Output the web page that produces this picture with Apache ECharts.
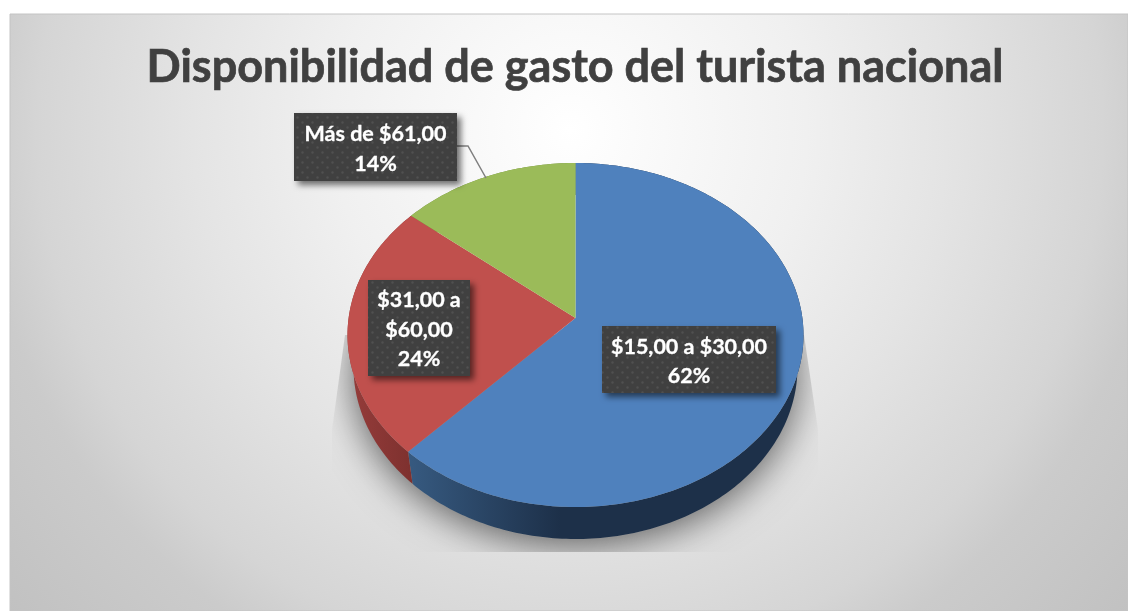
<!DOCTYPE html>
<html>
<head>
<meta charset="utf-8">
<style>
  html, body { margin: 0; padding: 0; background: #fff; }
  #chart { width: 1128px; height: 611px; }
</style>
<script src="https://cdn.jsdelivr.net/npm/echarts@6/dist/echarts.min.js"></script>
</head>
<body>
<div id="chart"></div>
<script>
// datos
var titleText = 'Disponibilidad de gasto del turista nacional';
var categories = ['$15,00 a $30,00', '$31,00 a\n$60,00', 'Más de $61,00'];
var shares = [62, 24, 14];
var topColors = ['#4f81bd', '#c0504d', '#9bbb59'];

// geometria del pastel en perspectiva
var topFace = { cx: 575.5, cy: 335, rx: 228, ry: 172 };
var bottomFace = { cx: 575.5, cy: 367, rx: 222, ry: 172 };
var persp = 0.099; // desplaza el vertice hacia atras
var boxes = [
  { x: 602, y: 326, w: 174, h: 67 },
  { x: 368, y: 280, w: 102, h: 96 },
  { x: 294, y: 113, w: 163, h: 68 }
];

var total = shares.reduce(function (a, b) { return a + b; }, 0);
function startOf(i) {
  var s = 0;
  for (var k = 0; k < i; k++) s += shares[k];
  return s / total;
}

// circulo unitario -> elipse con perspectiva
function project(face, frac, radius) {
  var a = frac * Math.PI * 2;
  var x = Math.sin(a) * radius;
  var y = Math.cos(a) * radius;
  var d = 1 + persp * y;
  return [
    face.cx + face.rx * x * Math.sqrt(1 - persp * persp) / d,
    face.cy - face.ry * (y + persp) / d
  ];
}

function arc(face, from, to) {
  var pts = [];
  var n = Math.max(2, Math.round((to - from) * 360));
  for (var i = 0; i <= n; i++) pts.push(project(face, from + (to - from) * i / n, 1));
  return pts;
}

// textura de puntos de las etiquetas
function dotTile() {
  var c = document.createElement('canvas');
  c.width = 10; c.height = 10;
  var g = c.getContext('2d');
  g.fillStyle = '#404040';
  g.fillRect(0, 0, 10, 10);
  g.fillStyle = '#505050';
  g.beginPath(); g.arc(2.5, 2.5, 1.2, 0, 7); g.fill();
  g.beginPath(); g.arc(7.5, 7.5, 1.2, 0, 7); g.fill();
  return c;
}
var tile = dotTile();

var wallColors = [
  { type: 'linear', x: 412, y: 0, x2: 560, y2: 0, global: true,
    colorStops: [{ offset: 0, color: '#36597f' }, { offset: 1, color: '#1d3049' }] },
  { type: 'linear', x: 350, y: 0, x2: 416, y2: 0, global: true,
    colorStops: [{ offset: 0, color: '#953c3a' }, { offset: 1, color: '#7c302e' }] },
  '#6f8a3c'
];

var seriesData = categories.map(function (c, i) { return { name: c, value: shares[i] }; });

var chart = echarts.init(document.getElementById('chart'), null, { renderer: 'canvas' });

chart.setOption({
  animation: false,
  backgroundColor: '#ffffff',
  title: {
    text: titleText,
    left: 570,
    top: 40,
    textAlign: 'center',
    textStyle: {
      fontFamily: 'Lato', fontWeight: 'bold', fontSize: 45, color: '#404040',
      textBorderColor: '#404040', textBorderWidth: 0.7
    }
  },
  graphic: [{
    type: 'rect',
    z: -10,
    silent: true,
    shape: { x: 10, y: 14, width: 1118, height: 597 },
    style: {
      stroke: '#c4c4c4',
      lineWidth: 1,
      fill: {
        type: 'radial', x: 570, y: 130, r: 740, global: true,
        colorStops: [
          { offset: 0, color: '#ffffff' },
          { offset: 0.32, color: '#f0f0f0' },
          { offset: 0.51, color: '#e4e4e4' },
          { offset: 0.72, color: '#d5d5d5' },
          { offset: 0.8, color: '#cbcbcb' },
          { offset: 1, color: '#c1c1c1' }
        ]
      }
    }
  }],
  series: [
    { // sombra, recortada como en la imagen
      type: 'custom', coordinateSystem: 'none', z: 1, silent: true,
      data: [0],
      renderItem: function () {
        return {
          type: 'polygon',
          shape: { points: arc(bottomFace, 0, 1) },
          clipPath: {
            type: 'polygon',
            shape: { points: [[345, 335], [332, 430], [332, 552], [818, 552], [818, 430], [804, 335]] }
          },
          style: {
            fill: '#9a9a9a',
            shadowColor: 'rgba(0,0,0,0.6)',
            shadowBlur: 38,
            shadowOffsetY: 6
          }
        };
      }
    },
    { // paredes
      type: 'custom', coordinateSystem: 'none', z: 2, silent: true,
      data: seriesData,
      renderItem: function (params) {
        var i = params.dataIndex;
        var from = startOf(i), to = from + shares[i] / total;
        var pts = arc(topFace, from, to).concat(arc(bottomFace, from, to).reverse());
        return { type: 'polygon', shape: { points: pts }, style: { fill: wallColors[i] } };
      }
    },
    { // cara superior
      type: 'custom', coordinateSystem: 'none', z: 3, silent: true,
      data: seriesData,
      renderItem: function (params, api) {
        var i = params.dataIndex;
        var from = startOf(i), to = from + api.value(0) / total;
        var pts = arc(topFace, from, to);
        pts.push(project(topFace, 0, 0));
        return { type: 'polygon', shape: { points: pts }, style: { fill: topColors[i] } };
      },
      encode: { value: 0 }
    },
    { // etiquetas
      type: 'custom', coordinateSystem: 'none', z: 4, silent: true,
      data: seriesData,
      renderItem: function (params) {
        var i = params.dataIndex, b = boxes[i];
        var kids = [];
        if (i === 2) {
          kids.push({
            type: 'polyline',
            shape: { points: [[b.x + b.w, b.y + 33], [b.x + b.w + 11, b.y + 33], [486, 178]] },
            style: { stroke: '#7f7f7f', lineWidth: 1.5, fill: null }
          });
        }
        kids.push({
          type: 'rect',
          shape: { x: b.x, y: b.y, width: b.w, height: b.h },
          style: {
            fill: { image: tile, repeat: 'repeat' },
            shadowColor: 'rgba(0,0,0,0.55)',
            shadowBlur: 6,
            shadowOffsetX: 4,
            shadowOffsetY: 4
          }
        });
        kids.push({
          type: 'text',
          x: b.x + b.w / 2,
          y: b.y + b.h / 2 + 2,
          style: {
            text: categories[i] + '\n' + shares[i] + '%',
            fill: '#ffffff',
            stroke: '#ffffff',
            lineWidth: 0.3,
            font: 'bold 21.5px Lato',
            lineHeight: 29.5,
            align: 'center',
            verticalAlign: 'middle'
          }
        });
        return { type: 'group', children: kids };
      }
    }
  ]
});
</script>
</body>
</html>
